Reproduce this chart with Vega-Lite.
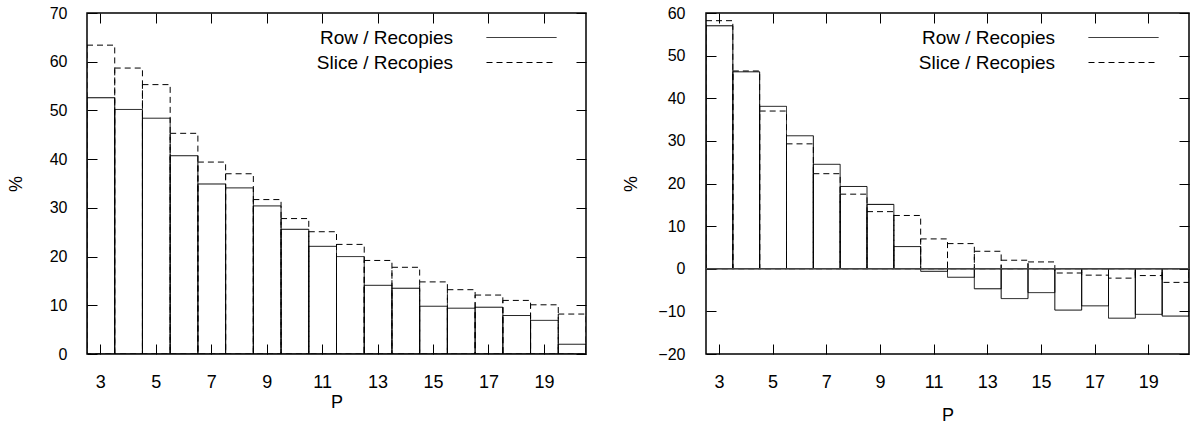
{
  "$schema": "https://vega.github.io/schema/vega-lite/v6.json",
  "background": "white",
  "padding": {"left": 6, "top": 4, "right": 3, "bottom": 3},
  "config": {
    "font": "Liberation Sans",
    "view": {"stroke": "black", "strokeWidth": 1.5},
    "concat": {"spacing": 34},
    "axis": {
      "grid": false, "domain": false,
      "labelFont": "Liberation Sans", "labelColor": "black",
      "tickColor": "black", "tickSize": -10, "tickWidth": 1,
      "titleFont": "Liberation Sans", "titleFontWeight": "normal", "titleColor": "black", "titleFontSize": 18
    },
    "legend": {
      "orient": "none", "padding": 0, "symbolType": "M-4,0H4", "symbolSize": 306,
      "symbolStrokeColor": "black", "symbolStrokeWidth": 1,
      "labelFont": "Liberation Sans", "labelFontSize": 19, "labelColor": "black",
      "labelAlign": "right", "labelOffset": -78, "rowPadding": 5, "labelLimit": 300
    }
  },
  "datasets": {
    "left": [
      {"P": 3, "series": "Slice / Recopies", "value": 63.4},
      {"P": 4, "series": "Slice / Recopies", "value": 58.7},
      {"P": 5, "series": "Slice / Recopies", "value": 55.3},
      {"P": 6, "series": "Slice / Recopies", "value": 45.3},
      {"P": 7, "series": "Slice / Recopies", "value": 39.4},
      {"P": 8, "series": "Slice / Recopies", "value": 37.0},
      {"P": 9, "series": "Slice / Recopies", "value": 31.7},
      {"P": 10, "series": "Slice / Recopies", "value": 27.8},
      {"P": 11, "series": "Slice / Recopies", "value": 25.1},
      {"P": 12, "series": "Slice / Recopies", "value": 22.5},
      {"P": 13, "series": "Slice / Recopies", "value": 19.2},
      {"P": 14, "series": "Slice / Recopies", "value": 17.8},
      {"P": 15, "series": "Slice / Recopies", "value": 14.8},
      {"P": 16, "series": "Slice / Recopies", "value": 13.2},
      {"P": 17, "series": "Slice / Recopies", "value": 12.1},
      {"P": 18, "series": "Slice / Recopies", "value": 11.0},
      {"P": 19, "series": "Slice / Recopies", "value": 10.1},
      {"P": 20, "series": "Slice / Recopies", "value": 8.2},
      {"P": 3, "series": "Row / Recopies", "value": 52.6},
      {"P": 4, "series": "Row / Recopies", "value": 50.2},
      {"P": 5, "series": "Row / Recopies", "value": 48.4},
      {"P": 6, "series": "Row / Recopies", "value": 40.7},
      {"P": 7, "series": "Row / Recopies", "value": 34.9},
      {"P": 8, "series": "Row / Recopies", "value": 34.1},
      {"P": 9, "series": "Row / Recopies", "value": 30.4},
      {"P": 10, "series": "Row / Recopies", "value": 25.6},
      {"P": 11, "series": "Row / Recopies", "value": 22.1},
      {"P": 12, "series": "Row / Recopies", "value": 20.0},
      {"P": 13, "series": "Row / Recopies", "value": 14.1},
      {"P": 14, "series": "Row / Recopies", "value": 13.5},
      {"P": 15, "series": "Row / Recopies", "value": 9.8},
      {"P": 16, "series": "Row / Recopies", "value": 9.4},
      {"P": 17, "series": "Row / Recopies", "value": 9.6},
      {"P": 18, "series": "Row / Recopies", "value": 7.9},
      {"P": 19, "series": "Row / Recopies", "value": 6.9},
      {"P": 20, "series": "Row / Recopies", "value": 2.0}
    ],
    "right": [
      {"P": 3, "series": "Slice / Recopies", "value": 58.2},
      {"P": 4, "series": "Slice / Recopies", "value": 46.4},
      {"P": 5, "series": "Slice / Recopies", "value": 37.0},
      {"P": 6, "series": "Slice / Recopies", "value": 29.3},
      {"P": 7, "series": "Slice / Recopies", "value": 22.3},
      {"P": 8, "series": "Slice / Recopies", "value": 17.5},
      {"P": 9, "series": "Slice / Recopies", "value": 13.4},
      {"P": 10, "series": "Slice / Recopies", "value": 12.5},
      {"P": 11, "series": "Slice / Recopies", "value": 7.0},
      {"P": 12, "series": "Slice / Recopies", "value": 5.9},
      {"P": 13, "series": "Slice / Recopies", "value": 4.1},
      {"P": 14, "series": "Slice / Recopies", "value": 2.0},
      {"P": 15, "series": "Slice / Recopies", "value": 1.6},
      {"P": 16, "series": "Slice / Recopies", "value": -1.0},
      {"P": 17, "series": "Slice / Recopies", "value": -1.5},
      {"P": 18, "series": "Slice / Recopies", "value": -2.2},
      {"P": 19, "series": "Slice / Recopies", "value": -1.6},
      {"P": 20, "series": "Slice / Recopies", "value": -3.2},
      {"P": 3, "series": "Row / Recopies", "value": 57.0},
      {"P": 4, "series": "Row / Recopies", "value": 46.2},
      {"P": 5, "series": "Row / Recopies", "value": 38.1},
      {"P": 6, "series": "Row / Recopies", "value": 31.2},
      {"P": 7, "series": "Row / Recopies", "value": 24.5},
      {"P": 8, "series": "Row / Recopies", "value": 19.3},
      {"P": 9, "series": "Row / Recopies", "value": 15.1},
      {"P": 10, "series": "Row / Recopies", "value": 5.2},
      {"P": 11, "series": "Row / Recopies", "value": -0.6},
      {"P": 12, "series": "Row / Recopies", "value": -2.0},
      {"P": 13, "series": "Row / Recopies", "value": -4.7},
      {"P": 14, "series": "Row / Recopies", "value": -7.0},
      {"P": 15, "series": "Row / Recopies", "value": -5.6},
      {"P": 16, "series": "Row / Recopies", "value": -9.7},
      {"P": 17, "series": "Row / Recopies", "value": -8.7},
      {"P": 18, "series": "Row / Recopies", "value": -11.6},
      {"P": 19, "series": "Row / Recopies", "value": -10.7},
      {"P": 20, "series": "Row / Recopies", "value": -11.1}
    ]
  },
  "hconcat": [
    {
      "width": 499, "height": 341,
      "data": {"name": "left"},
      "layer": [
        {
          "mark": {"type": "bar", "filled": false, "stroke": "black", "strokeWidth": 1, "clip": true},
          "encoding": {
            "x": {"field": "P", "type": "ordinal", "scale": {"paddingInner": 0, "paddingOuter": 0},
              "axis": {"orient": "bottom", "values": [3, 5, 7, 9, 11, 13, 15, 17, 19], "labelAngle": 0, "labelFontSize": 18, "labelPadding": 29, "title": "P", "titlePadding": 2}},
            "y": {"field": "value", "type": "quantitative", "stack": null, "scale": {"domain": [0, 70], "nice": false},
              "axis": {"orient": "left", "values": [0, 10, 20, 30, 40, 50, 60, 70], "labelFontSize": 16, "labelPadding": 30, "title": "%", "titlePadding": 24}},
            "strokeDash": {"field": "series", "type": "nominal",
              "scale": {"domain": ["Row / Recopies", "Slice / Recopies"], "range": [[1, 0], [6, 4]]},
              "legend": {"title": null, "legendX": 425, "legendY": 15}}
          }
        },
        {
          "mark": {"type": "bar", "opacity": 0, "clip": true},
          "encoding": {
            "x": {"field": "P", "type": "ordinal", "axis": {"orient": "top", "values": [3, 5, 7, 9, 11, 13, 15, 17, 19], "labels": false, "title": null}},
            "y": {"field": "value", "type": "quantitative", "stack": null, "axis": {"orient": "right", "values": [0, 10, 20, 30, 40, 50, 60, 70], "labels": false, "title": null}}
          }
        }
      ],
      "resolve": {"axis": {"x": "independent", "y": "independent"}}
    },
    {
      "width": 483, "height": 341,
      "data": {"name": "right"},
      "layer": [
        {
          "mark": {"type": "bar", "filled": false, "stroke": "black", "strokeWidth": 1, "clip": true},
          "encoding": {
            "x": {"field": "P", "type": "ordinal", "scale": {"paddingInner": 0, "paddingOuter": 0},
              "axis": {"orient": "bottom", "values": [3, 5, 7, 9, 11, 13, 15, 17, 19], "labelAngle": 0, "labelFontSize": 18, "labelPadding": 29, "title": "P", "titlePadding": 15}},
            "y": {"field": "value", "type": "quantitative", "stack": null, "scale": {"domain": [-20, 60], "nice": false},
              "axis": {"orient": "left", "values": [-20, -10, 0, 10, 20, 30, 40, 50, 60], "labelFontSize": 16, "labelPadding": 31, "title": "%", "titlePadding": 17}},
            "strokeDash": {"field": "series", "type": "nominal",
              "scale": {"domain": ["Row / Recopies", "Slice / Recopies"], "range": [[1, 0], [6, 4]]},
              "legend": {"title": null, "legendX": 408, "legendY": 15}}
          }
        },
        {
          "mark": {"type": "bar", "opacity": 0, "clip": true},
          "encoding": {
            "x": {"field": "P", "type": "ordinal", "axis": {"orient": "top", "values": [3, 5, 7, 9, 11, 13, 15, 17, 19], "labels": false, "title": null}},
            "y": {"field": "value", "type": "quantitative", "stack": null, "axis": {"orient": "right", "values": [-20, -10, 0, 10, 20, 30, 40, 50, 60], "labels": false, "title": null}}
          }
        },
        {
          "data": {"values": [{"z": 0}]},
          "mark": {"type": "rule", "color": "#444444", "strokeWidth": 1.5},
          "encoding": {"y": {"field": "z", "type": "quantitative", "axis": null}}
        }
      ],
      "resolve": {"axis": {"x": "independent", "y": "independent"}, "legend": {"strokeDash": "independent"}}
    }
  ],
  "resolve": {"legend": {"strokeDash": "independent"}, "scale": {"x": "independent", "y": "independent", "strokeDash": "independent"}}
}
